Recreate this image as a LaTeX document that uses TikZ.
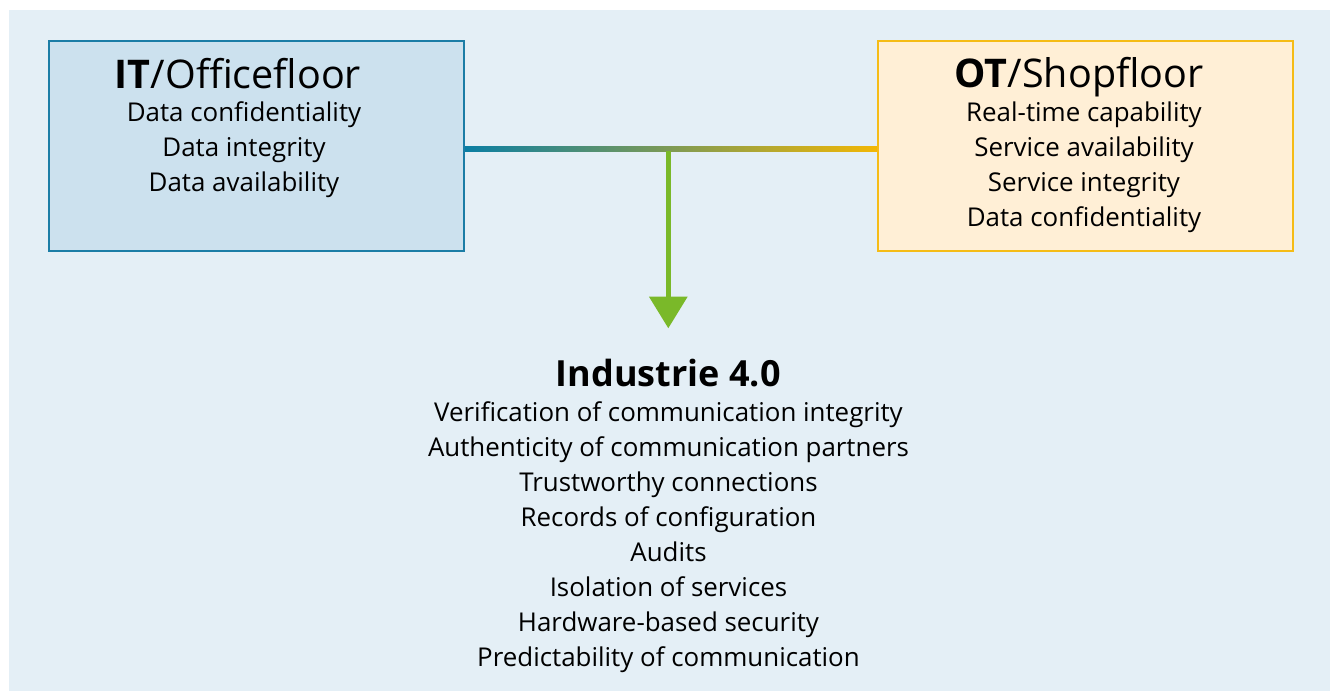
\documentclass[tikz,border=0pt]{standalone}
\usepackage{fontspec}
\setmainfont{Open Sans}
\usetikzlibrary{arrows.meta,positioning,calc}
\definecolor{bgblue}{HTML}{E4EFF6}
\definecolor{itline}{HTML}{1B7DA6}
\definecolor{itfill}{HTML}{CCE1EE}
\definecolor{otline}{HTML}{F5BC16}
\definecolor{otfill}{HTML}{FFEFD6}
\definecolor{linkblue}{HTML}{0B7EA3}
\definecolor{linkyellow}{HTML}{F2B705}
\definecolor{arrowgreen}{HTML}{7AB929}
\tikzset{
  areabox/.style={minimum width=415pt, minimum height=210pt, line width=2pt, inner sep=0pt},
  heading/.style={anchor=base, inner sep=0pt, font=\fontsize{39.5}{44}\selectfont},
  item/.style={anchor=base, inner sep=0pt, font=\fontsize{25.9}{35}\selectfont},
  >/.tip={Triangle[width=37.4pt, length=31.6pt]}
}

\begin{document}
\begin{tikzpicture}[x=1pt, y=-1pt]
\useasboundingbox (0,0) rectangle (1330,691);
\fill[bgblue] (9,10) rectangle (1330,691);

% the two worlds
\node[areabox, draw=itline, fill=itfill] (it) at (256.7,145.5) {};
\node[areabox, draw=otline, fill=otfill] (ot) at (1085.5,145.8) {};

\node[heading] (itTitle) at (238,88) {\textbf{IT}/Officefloor};
\foreach \t [count=\i] in {Data confidentiality, Data integrity, Data availability}
  \node[item] (it\i) at (244,86.7+35*\i) {\t};

\node[heading] (otTitle) at (1079,87) {\textbf{OT}/Shopfloor};
\foreach \t [count=\i] in {Real-time capability, Service availability, Service integrity, Data confidentiality}
  \node[item] (ot\i) at (1084,86.7+35*\i) {\t};

% link and arrow
\shade[left color=linkblue, right color=linkyellow]
  ($(it.east)+(0,0.5)$) rectangle ($(ot.west)+(0,5.5)$);
\coordinate (junction) at (668.3,151);
\coordinate (tip) at (668.3,328.3);
\draw[->, arrowgreen, line width=4.8pt] (junction) -- (tip);

% result
\node[heading, font=\fontsize{36}{40}\selectfont\bfseries] (i4Title) at (668.3,386.7) {Industrie 4.0};
\foreach \t [count=\i] in {Verification of communication integrity, Authenticity of communication partners,
  Trustworthy connections, Records of configuration, Audits, Isolation of services,
  Hardware-based security, Predictability of communication}
  \node[item] (i4\i) at (668.5,386.7+35*\i) {\t};
\end{tikzpicture}
\end{document}
